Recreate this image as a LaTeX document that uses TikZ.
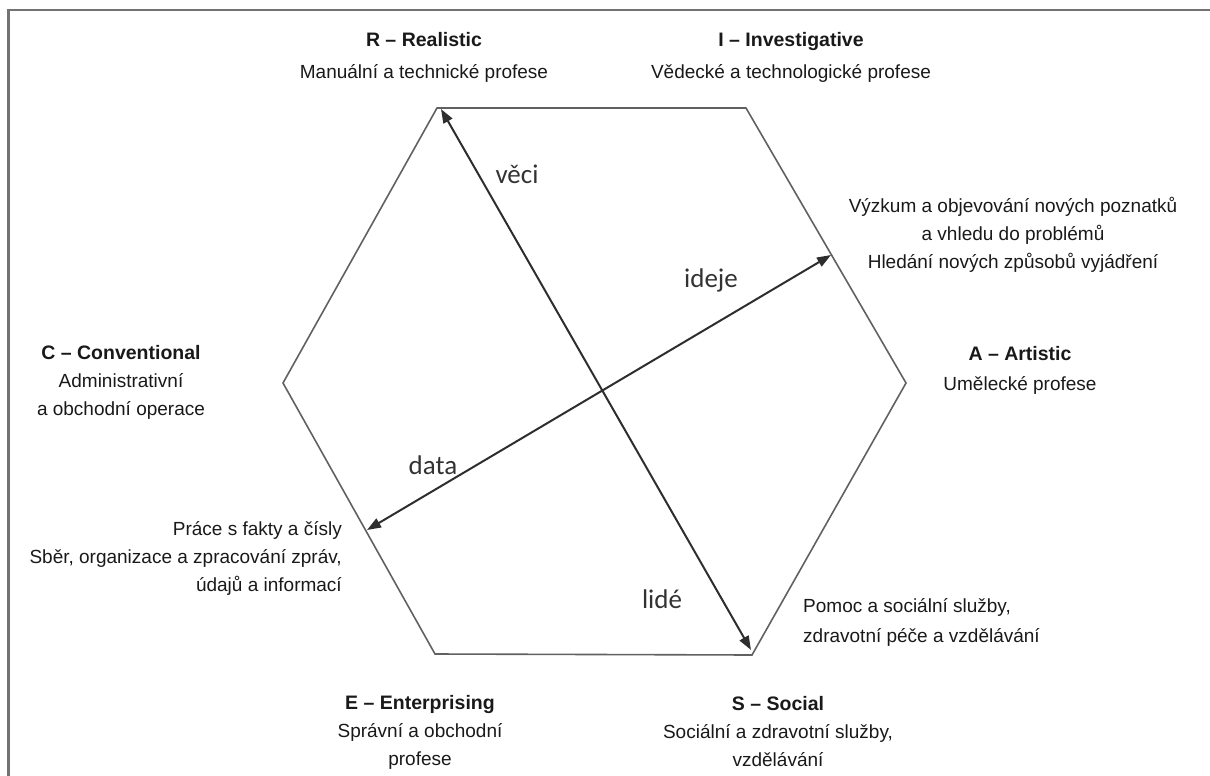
\documentclass[tikz,border=0pt]{standalone}
\usepackage{fontspec}
\setmainfont{Liberation Sans}
\newfontfamily\axisfont{Carlito}
\usetikzlibrary{arrows.meta}
\begin{document}
\begin{tikzpicture}[x=1pt,y=-1pt,
  lab/.style={font=\fontsize{19}{28}\selectfont, align=center, inner sep=0pt, text=black!90},
  axislab/.style={font=\axisfont\fontsize{27}{30}\selectfont, inner sep=0pt, text=black!80},
  hexedge/.style={draw=black!62, line width=1.6pt, line join=miter},
  axis/.style={draw=black!82, line width=2pt, {Triangle[length=14pt,width=10pt]}-{Triangle[length=14pt,width=10pt]}},
  frame/.style={draw=black!55, line width=2.2pt}]
\useasboundingbox (0,0) rectangle (1210,776);
\clip (0,0) rectangle (1210,776);

% outer frame (open on the right and bottom)
\draw[frame] (8.5,790) -- (8.5,10) -- (1220,10);

% hexagon corners
\coordinate (R) at (437,108);
\coordinate (I) at (746,108);
\coordinate (A) at (906,383);
\coordinate (S) at (752,655);
\coordinate (E) at (435,654);
\coordinate (C) at (283,383);
\draw[hexedge] (R) -- (I) -- (A) -- (S) -- (E) -- (C) -- cycle;

% axis ends
\coordinate (thingsEnd) at (441,109);
\coordinate (peopleEnd) at (751,650);
\coordinate (ideasEnd) at (831,255);
\coordinate (dataEnd) at (367,530);
\draw[axis] (thingsEnd) -- (peopleEnd);
\draw[axis] (dataEnd) -- (ideasEnd);

% axis labels
\node[axislab] (veci) at (517,174) {věci};
\node[axislab] (ideje) at (711,280) {ideje};
\node[axislab] (data) at (433,465) {data};
\node[axislab] (lide) at (662,599) {lidé};

% type labels
\node[lab] (Rlab) at (424,57) {\textbf{\fontsize{19.5}{28}\selectfont R – Realistic}\\[4pt]Manuální a technické profese};
\node[lab] (Ilab) at (791,57) {\textbf{\fontsize{19.5}{28}\selectfont I – Investigative}\\[4pt]Vědecké a technologické profese};
\node[lab] (Alab) at (1020,370) {\textbf{\fontsize{19.5}{28}\selectfont A – Artistic}\\[2pt]Umělecké profese};
\node[lab] (Clab) at (121,382) {\textbf{\fontsize{19.5}{28}\selectfont C – Conventional}\\Administrativní\\a obchodní operace};
\node[lab] (Elab) at (420,732) {\textbf{\fontsize{19.5}{28}\selectfont E – Enterprising}\\Správní a obchodní\\profese};
\node[lab] (Slab) at (778,732) {\textbf{\fontsize{19.5}{28}\selectfont S – Social}\\Sociální a zdravotní služby,\\vzdělávání};

% pole descriptions
\node[lab] (ideasTxt) at (1013,235) {Výzkum a objevování nových poznatků\\a vhledu do problémů\\Hledání nových způsobů vyjádření};
\node[lab, align=right, anchor=east] (dataTxt) at (342,558) {Práce s fakty a čísly\\Sběr, organizace a zpracování zpráv,\\údajů a informací};
\node[lab, align=left, anchor=west] (peopleTxt) at (803,622) {Pomoc a sociální služby,\\[2pt]zdravotní péče a vzdělávání};
\end{tikzpicture}
\end{document}
